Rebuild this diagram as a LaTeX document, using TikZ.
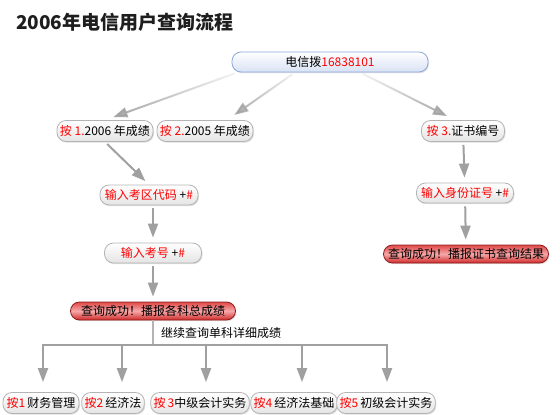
\documentclass[tikz,border=0pt]{standalone}
\usepackage{fontspec}
\setmainfont{Noto Sans CJK SC}
\usetikzlibrary{arrows.meta,shadows,fadings}
\definecolor{arrowgray}{HTML}{A0A0A0}
\definecolor{pillborder}{HTML}{B4B4B4}
\definecolor{pillfill}{HTML}{E4E4E4}
\definecolor{blueborder}{HTML}{8EA8D8}
\definecolor{bluefill}{HTML}{D8E2F4}
\definecolor{redborder}{HTML}{8C1E1E}
\definecolor{redtop}{HTML}{E04848}
\definecolor{redmid}{HTML}{F6A8A8}
\definecolor{redbottom}{HTML}{D02828}
\definecolor{titlegray}{HTML}{1E1E1E}
\newcommand{\hl}[1]{\textcolor{red}{#1}}
\tikzfading[name=fromright, left color=transparent!0, right color=transparent!90]
\tikzfading[name=fromleft, left color=transparent!90, right color=transparent!0]
\tikzset{
  pill/.style={draw=pillborder, line width=0.8pt, rounded corners=9pt, top color=white, bottom color=pillfill,
    minimum height=21pt, inner xsep=3pt, inner ysep=1pt, font=\fontsize{12}{14}\selectfont,
    drop shadow={opacity=0.25, shadow xshift=1pt, shadow yshift=-1.2pt}},
  bluepill/.style={pill, draw=blueborder, top color=white, bottom color=bluefill},
  redpill/.style={pill, draw=redborder, top color=redtop, bottom color=redbottom, middle color=redmid, minimum height=18pt},
  arr/.style={draw=arrowgray, line width=2pt, -{Triangle[length=14pt,width=10pt]}, shorten <=3pt, shorten >=5pt},
  busline/.style={draw=arrowgray!80, line width=2pt}
}
\begin{document}
\begin{tikzpicture}[x=1pt,y=-1pt]
\useasboundingbox (0,0) rectangle (560,415);
\node[anchor=west, inner sep=0pt, text=titlegray, font=\fontsize{19}{21}\selectfont\bfseries] (title) at (16,22) {2006年电信用户查询流程};
\node[bluepill, minimum width=196pt, minimum height=20pt] (dial) at (330,62) {电信拨\hl{16838101}};
\node[pill, minimum width=96pt] (y2006) at (105,131) {\hl{按 1.}2006 年成绩};
\node[pill, minimum width=96pt] (y2005) at (205,131) {\hl{按 2.}2005 年成绩};
\node[pill, minimum width=83pt] (cert) at (463,131) {\hl{按 3.}证书编号};
\node[pill, minimum width=98pt, minimum height=20pt] (area) at (149,195) {\hl{输入考区代码} +\hl{\#}};
\node[pill, minimum width=97pt, minimum height=20pt] (exam) at (153,253) {\hl{输入考号} +\hl{\#}};
\node[redpill, minimum width=165pt] (total) at (153,311) {查询成功！播报各科总成绩};
\node[pill, minimum width=97pt, minimum height=20pt] (idno) at (465,193) {\hl{输入身份证号} +\hl{\#}};
\node[redpill, minimum width=165pt] (certres) at (466,254) {查询成功！播报证书查询结果};
\node[anchor=west, inner sep=0pt, font=\fontsize{12}{14}\selectfont] (more) at (161,333) {继续查询单科详细成绩};
\node[pill, minimum width=76pt] (sub1) at (41,403) {\hl{按1}\,财务管理};
\node[pill, minimum width=62pt] (sub2) at (113,403) {\hl{按2}\,经济法};
\node[pill, minimum width=95pt] (sub3) at (200,403) {\hl{按\,3}中级会计实务};
\node[pill, minimum width=82pt] (sub4) at (294,403) {\hl{按4}\,经济法基础};
\node[pill, minimum width=93pt] (sub5) at (386,403) {\hl{按5}\,初级会计实务};
\coordinate (bus) at (153,345);
\draw[arr, shorten >=9pt, path fading=fromright] ([xshift=6pt]dial.south west) -- (y2006.north);
\draw[arr, shorten >=9pt, path fading=fromright] ([xshift=-35pt]dial.south) -- ([xshift=22pt]y2005.north);
\draw[arr, shorten >=9pt, path fading=fromleft] ([xshift=30pt]dial.south) -- ([xshift=-8pt]cert.north);
\draw[arr] (y2006.south) -- (area.north);
\draw[arr] (area.south -| exam) -- (exam);
\draw[arr] (exam) -- (total);
\draw[arr] (cert) -- (idno);
\draw[arr] (idno) -- (certres);
\draw[busline] (total) -- (bus);
\draw[arr, shorten <=0pt, shorten >=10pt] (bus) -| ([xshift=2pt]sub1.north);
\draw[arr, shorten <=0pt, shorten >=10pt] (bus) -| ([xshift=9pt]sub2.north);
\draw[arr, shorten <=0pt, shorten >=10pt] (bus) -| ([xshift=6pt]sub3.north);
\draw[arr, shorten <=0pt, shorten >=10pt] (bus) -| ([xshift=8pt]sub4.north);
\draw[arr, shorten <=0pt, shorten >=10pt] (bus) -| ([xshift=1pt]sub5.north);
\end{tikzpicture}
\end{document}
